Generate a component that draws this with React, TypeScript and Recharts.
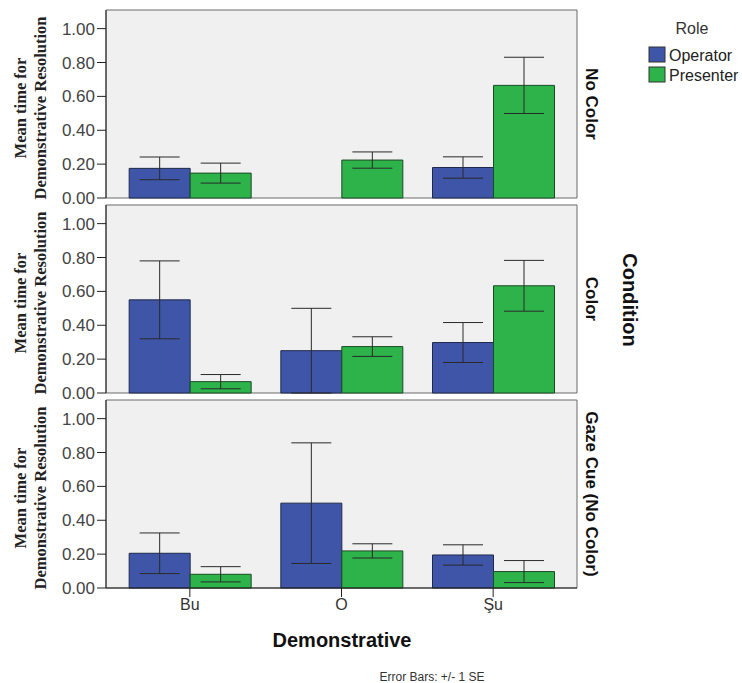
import React from 'react';
import { BarChart, Bar, XAxis, YAxis, CartesianGrid, ErrorBar } from 'recharts';

const categories = ['Bu', 'O', 'Şu'];
const roles = ['Operator', 'Presenter'];
const conditions = ['No Color', 'Color', 'Gaze Cue (No Color)'];
const yTicks = [0, 0.2, 0.4, 0.6, 0.8, 1.0];

const noColorOperator = [0.175, null, 0.18];
const noColorOperatorSE = [0.067, null, 0.063];
const noColorPresenter = [0.147, 0.224, 0.665];
const noColorPresenterSE = [0.059, 0.048, 0.166];

const colorOperator = [0.55, 0.25, 0.298];
const colorOperatorSE = [0.23, 0.25, 0.118];
const colorPresenter = [0.067, 0.274, 0.633];
const colorPresenterSE = [0.042, 0.058, 0.15];

const gazeOperator = [0.205, 0.501, 0.195];
const gazeOperatorSE = [0.12, 0.356, 0.06];
const gazePresenter = [0.081, 0.219, 0.097];
const gazePresenterSE = [0.045, 0.042, 0.065];

const BLUE = '#3F55A8';
const GREEN = '#2DB34A';
const FONT = 'Arial, "Liberation Sans", sans-serif';

function build(op: (number | null)[], opSE: (number | null)[], pr: number[], prSE: number[]) {
  return categories.map((c, i) => ({
    name: c,
    Operator: op[i],
    OperatorSE: opSE[i],
    Presenter: pr[i],
    PresenterSE: prSE[i],
  }));
}

const panels = [
  build(noColorOperator, noColorOperatorSE, noColorPresenter, noColorPresenterSE),
  build(colorOperator, colorOperatorSE, colorPresenter, colorPresenterSE),
  build(gazeOperator, gazeOperatorSE, gazePresenter, gazePresenterSE),
];

const plotTops = [10, 205, 400];
const PLOT_H = 188;

function Panel({ data, showX }: { data: any[]; showX: boolean }) {
  const height = showX ? 10 + PLOT_H + 40 : 10 + PLOT_H + 10;
  return (
    <BarChart
      width={600}
      height={height}
      data={data}
      margin={{ top: 10, right: 23, left: 0, bottom: showX ? 0 : 10 }}
      barCategoryGap="10%"
      barGap={0}
    >
      <CartesianGrid
        fill="#F0F0F0"
        fillOpacity={1}
        stroke="#6a6a6a"
        horizontalCoordinatesGenerator={(p: any) => [p.offset.top, p.offset.top + p.offset.height]}
        verticalCoordinatesGenerator={(p: any) => [p.offset.left, p.offset.left + p.offset.width]}
      />
      <XAxis
        dataKey="name"
        type="category"
        hide={!showX}
        height={40}
        padding={{ left: 8, right: 8 }}
        tickSize={9}
        axisLine={{ stroke: '#222' }}
        tickLine={{ stroke: '#222' }}
        tick={{ fontSize: 16, fill: '#333', fontFamily: FONT }}
      />
      <YAxis
        type="number"
        width={106}
        domain={[0, 1.11]}
        ticks={yTicks}
        tickFormatter={(v: number) => v.toFixed(2)}
        tickSize={9}
        axisLine={{ stroke: '#222' }}
        tickLine={{ stroke: '#222' }}
        tick={{ fontSize: 17, fill: '#444', fontFamily: FONT }}
        interval={0}
      />
      <Bar dataKey="Operator" fill={BLUE} stroke="#1f2a4a" strokeWidth={1} isAnimationActive={false}>
        <ErrorBar dataKey="OperatorSE" width={20} stroke="#2a2a2a" strokeWidth={1} />
      </Bar>
      <Bar dataKey="Presenter" fill={GREEN} stroke="#1d4a26" strokeWidth={1} isAnimationActive={false}>
        <ErrorBar dataKey="PresenterSE" width={20} stroke="#2a2a2a" strokeWidth={1} />
      </Bar>
    </BarChart>
  );
}

export default function App() {
  return (
    <div style={{ position: 'absolute', left: 0, top: 0, width: 742, height: 683, background: '#fff' }}>
      {panels.map((d, i) => (
        <div key={i} style={{ position: 'absolute', left: 0, top: plotTops[i] - 10 }}>
          <Panel data={d} showX={i === 2} />
        </div>
      ))}
      <svg width={742} height={683} style={{ position: 'absolute', left: 0, top: 0, pointerEvents: 'none' }}>
        {plotTops.map((t, i) => {
          const cy = t + PLOT_H / 2 + 4;
          return (
            <g key={i}>
              <text
                transform={`translate(20, ${cy}) rotate(-90)`}
                textAnchor="middle"
                dominantBaseline="central"
                fontFamily='"Times New Roman", "Liberation Serif", serif'
                fontWeight="bold"
                fontSize={16.5}
                fill="#222"
              >
                Mean time for
              </text>
              <text
                transform={`translate(40, ${cy}) rotate(-90)`}
                textAnchor="middle"
                dominantBaseline="central"
                fontFamily='"Times New Roman", "Liberation Serif", serif'
                fontWeight="bold"
                fontSize={16.5}
                fill="#222"
              >
                Demonstrative Resolution
              </text>
              <text
                transform={`translate(591, ${t + PLOT_H / 2}) rotate(90)`}
                textAnchor="middle"
                dominantBaseline="central"
                fontFamily={FONT}
                fontWeight="bold"
                fontSize={17}
                fill="#111"
              >
                {conditions[i]}
              </text>
            </g>
          );
        })}
        <text
          transform="translate(630, 300) rotate(90)"
          textAnchor="middle"
          dominantBaseline="central"
          fontFamily={FONT}
          fontWeight="bold"
          fontSize={20}
          fill="#111"
        >
          Condition
        </text>
        <text x={342} y={647} textAnchor="middle" fontFamily={FONT} fontWeight="bold" fontSize={20} fill="#111">
          Demonstrative
        </text>
        <text x={432} y={681} textAnchor="middle" fontFamily={FONT} fontSize={12} fill="#333">
          Error Bars: +/- 1 SE
        </text>
        <text x={692} y={34} textAnchor="middle" fontFamily={FONT} fontSize={16} fill="#333">
          Role
        </text>
        {roles.map((r, i) => (
          <g key={r}>
            <rect
              x={649}
              y={47 + i * 20}
              width={16}
              height={15}
              fill={i === 0 ? BLUE : GREEN}
              stroke="#333"
              strokeWidth={1}
            />
            <text x={669} y={55 + i * 20} dominantBaseline="central" fontFamily={FONT} fontSize={16} fill="#222">
              {r}
            </text>
          </g>
        ))}
      </svg>
    </div>
  );
}
